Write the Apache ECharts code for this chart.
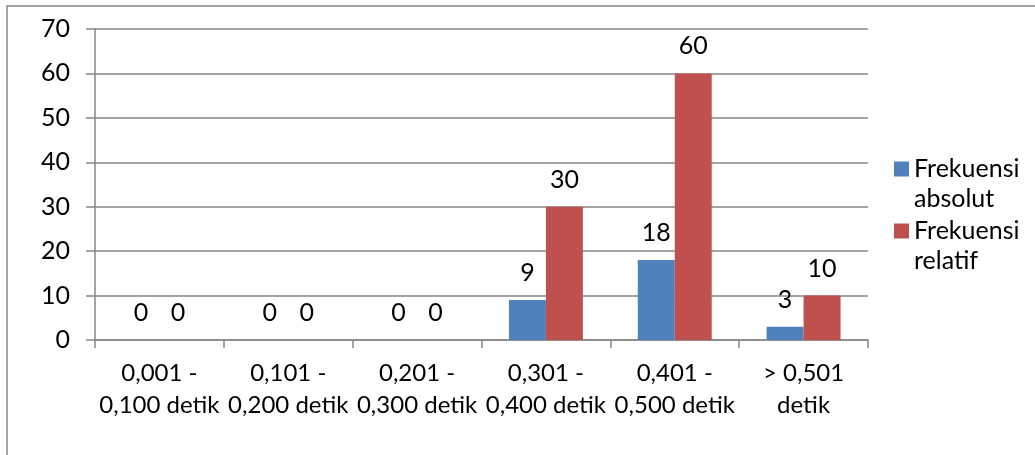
<!DOCTYPE html>
<html>
<head>
<meta charset="utf-8">
<script src="https://cdn.jsdelivr.net/npm/echarts@6/dist/echarts.min.js"></script>
<style>
html,body{margin:0;padding:0;background:#fff;}
#chart{width:1035px;height:455px;}
</style>
</head>
<body>
<div id="chart"></div>
<script>
const categories = ['0,001 -\n0,100 detik', '0,101 -\n0,200 detik', '0,201 -\n0,300 detik', '0,301 -\n0,400 detik', '0,401 -\n0,500 detik', '> 0,501\ndetik'];
const absolut = [0, 0, 0, 9, 18, 3];
const relatif = [0, 0, 0, 30, 60, 10];
const seriesNames = ['Frekuensi absolut', 'Frekuensi relatif'];
const yTicks = {min: 0, max: 70, interval: 10};

const FONT = 'Lato';
const FS = 24;
const gray = '#868686';

const chart = echarts.init(document.getElementById('chart'));
const labelStyle = {show: true, position: 'top', distance: 11, color: '#000', fontFamily: FONT, fontSize: 25, lineHeight: 32};
const legendFmt = function (name) { const p = name.split(' '); return ' \n' + p[0] + '\n' + p[1]; };
const legendBase = {
  orient: 'vertical', left: 889, icon: 'rect', itemWidth: 15, itemHeight: 15, itemGap: 0,
  formatter: legendFmt, selectedMode: false,
  textStyle: {fontFamily: FONT, fontSize: 25, lineHeight: 30, color: '#000'}
};
chart.setOption({
  animation: false,
  textStyle: {fontFamily: FONT},
  graphic: [{type: 'rect', shape: {x: 7, y: 6, width: 1100, height: 500}, style: {fill: 'none', stroke: gray, lineWidth: 1.5}, silent: true}],
  legend: [
    Object.assign({}, legendBase, {top: 119, data: [seriesNames[0]]}),
    Object.assign({}, legendBase, {top: 181, data: [seriesNames[1]]})
  ],
  grid: {left: 95, right: 167, top: 29, bottom: 115},
  xAxis: {
    type: 'category', data: categories,
    axisLine: {lineStyle: {color: gray, width: 1.5}},
    axisTick: {show: true, length: 8, lineStyle: {color: gray, width: 1.5}},
    axisLabel: {color: '#000', fontFamily: FONT, fontSize: FS, lineHeight: 32, margin: 17, interval: 0}
  },
  yAxis: {
    type: 'value', min: yTicks.min, max: yTicks.max, interval: yTicks.interval,
    axisLine: {show: true, lineStyle: {color: gray, width: 1.5}},
    axisTick: {show: true, length: 9, lineStyle: {color: gray, width: 1.5}},
    splitLine: {lineStyle: {color: gray, width: 1.5}},
    axisLabel: {color: '#000', fontFamily: FONT, fontSize: 25, margin: 25}
  },
  series: [
    {name: seriesNames[0], type: 'bar', data: absolut, barWidth: '28.7%', barGap: '0%', itemStyle: {color: '#4F81BD'}, label: labelStyle},
    {name: seriesNames[1], type: 'bar', data: relatif, barWidth: '28.7%', barGap: '0%', itemStyle: {color: '#C0504D'}, label: labelStyle}
  ]
});
</script>
</body>
</html>
